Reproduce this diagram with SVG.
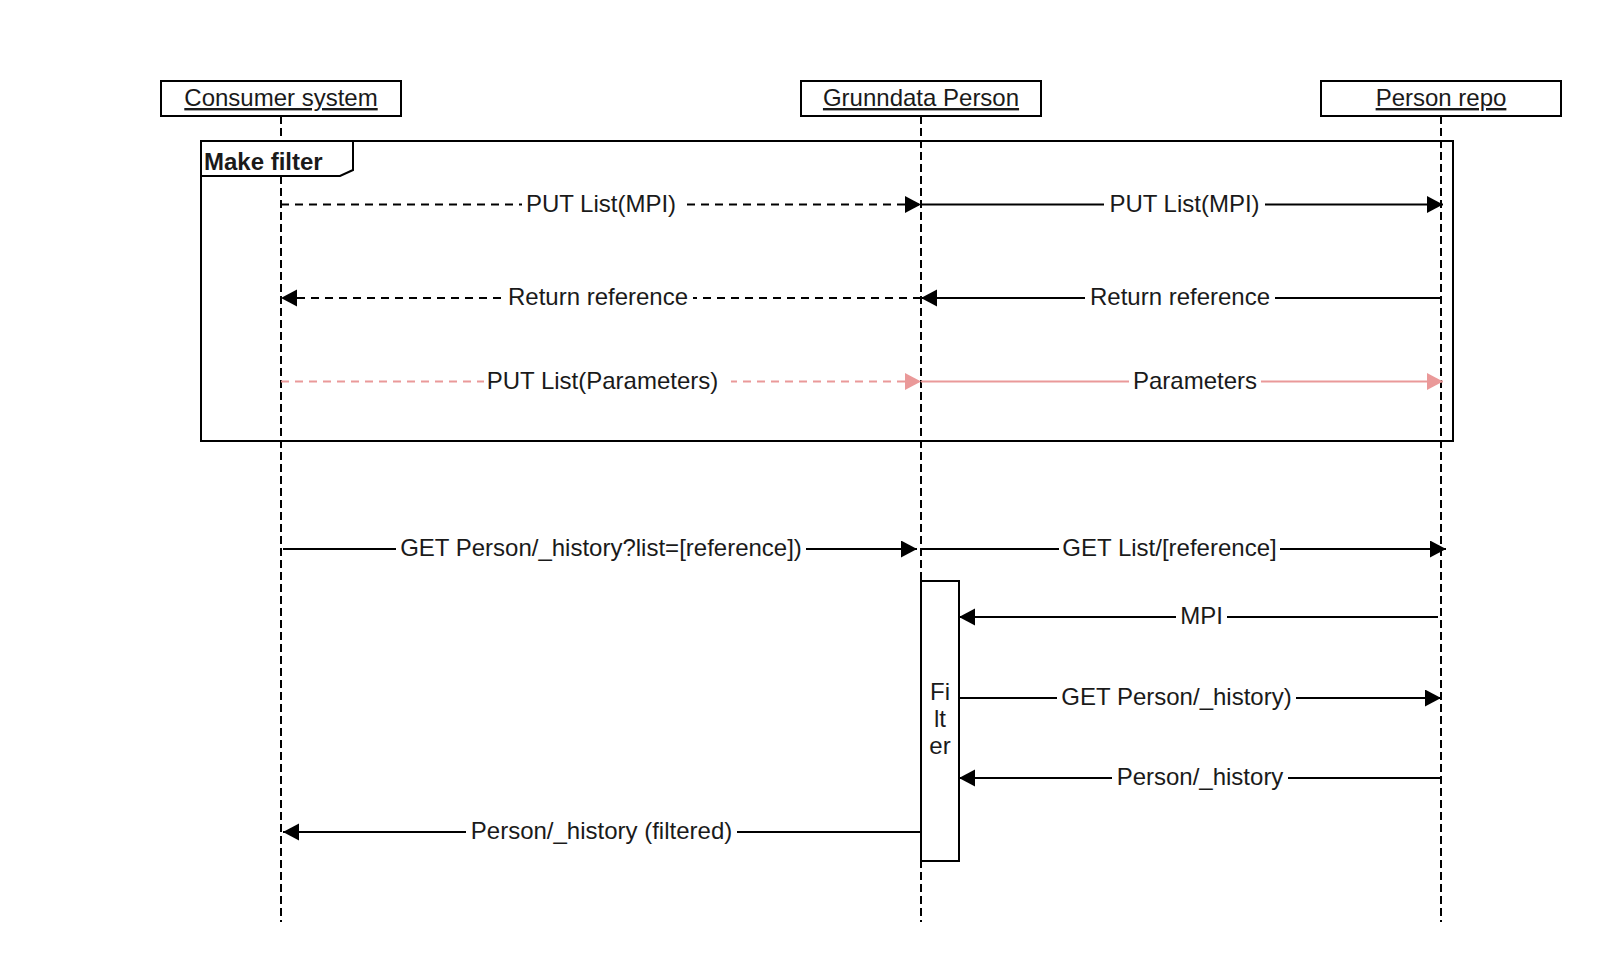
<svg xmlns="http://www.w3.org/2000/svg" width="1604" height="960" viewBox="0 0 1604 960">
  <style>
    text { font-family: "Liberation Sans", Arial, Helvetica, sans-serif; font-size: 24px; fill: #1a1a1a; }
    .head { fill: #ffffff; stroke: #000000; stroke-width: 2; }
    .title { text-anchor: middle; text-decoration: underline; }
    .life { stroke: #000000; stroke-width: 2; stroke-dasharray: 8 4; fill: none; }
    .msg { stroke: #000000; stroke-width: 2; fill: none; }
    .dash { stroke-dasharray: 8 6; }
    .pink { stroke: #ea9999; }
    .lbl { text-anchor: middle; }
    .bg { fill: #ffffff; }
  </style>
  <defs>
    <marker id="arrow" markerUnits="userSpaceOnUse" markerWidth="17" markerHeight="18" refX="16" refY="8.5" orient="auto">
      <path d="M0,0 L16,8.5 L0,17 z" fill="#000000"/>
    </marker>
    <marker id="arrowPink" markerUnits="userSpaceOnUse" markerWidth="17" markerHeight="18" refX="16" refY="8.5" orient="auto">
      <path d="M0,0 L16,8.5 L0,17 z" fill="#ea9999"/>
    </marker>
  </defs>
  <rect width="1604" height="960" fill="#ffffff"/>

  <!-- lifelines -->
  <g id="lifelines">
    <line class="life" x1="281" y1="116" x2="281" y2="922"/>
    <line class="life" x1="921" y1="116" x2="921" y2="922"/>
    <line class="life" x1="1441" y1="116" x2="1441" y2="922"/>
  </g>

  <!-- combined fragment -->
  <g id="frame-make-filter">
    <rect x="201" y="141" width="1252" height="300" fill="none" stroke="#000000" stroke-width="2"/>
    <polygon points="201,141 353,141 353,170 340,176 201,176" fill="#ffffff" stroke="#000000" stroke-width="2"/>
    <text x="204" y="169.5" font-weight="bold">Make filter</text>
  </g>

  <!-- participants -->
  <g id="consumer-system">
    <rect class="head" x="161" y="81" width="240" height="35"/>
    <text class="title" x="281" y="106">Consumer system</text>
  </g>
  <g id="grunndata-person">
    <rect class="head" x="801" y="81" width="240" height="35"/>
    <text class="title" x="921" y="106">Grunndata Person</text>
  </g>
  <g id="person-repo">
    <rect class="head" x="1321" y="81" width="240" height="35"/>
    <text class="title" x="1441" y="106">Person repo</text>
  </g>

  <!-- activation on Grunndata Person -->
  <g id="filter-activation">
    <rect x="921" y="581" width="38" height="280" fill="#ffffff" stroke="#000000" stroke-width="2"/>
    <text class="lbl" x="940" y="700">Fi</text>
    <text class="lbl" x="940" y="727">lt</text>
    <text class="lbl" x="940" y="754">er</text>
  </g>

  <!-- messages -->
  <g id="connectors">
    <line class="msg dash" x1="281" y1="204.5" x2="921" y2="204.5" marker-end="url(#arrow)"/>
    <rect class="bg" x="522" y="192" width="159" height="26"/>
    <text class="lbl" x="601" y="212">PUT List(MPI)</text>

    <line class="msg" x1="921" y1="204.5" x2="1443" y2="204.5" marker-end="url(#arrow)"/>
    <rect class="bg" x="1104" y="192" width="161" height="26"/>
    <text class="lbl" x="1184.5" y="212">PUT List(MPI)</text>

    <line class="msg" x1="1441" y1="298" x2="921" y2="298" marker-end="url(#arrow)"/>
    <rect class="bg" x="1085" y="285" width="190" height="26"/>
    <text class="lbl" x="1180" y="305">Return reference</text>

    <line class="msg dash" x1="921" y1="298" x2="281" y2="298" marker-end="url(#arrow)"/>
    <rect class="bg" x="504" y="285" width="189" height="26"/>
    <text class="lbl" x="598" y="305">Return reference</text>

    <line class="msg dash pink" x1="281" y1="381.5" x2="921" y2="381.5" marker-end="url(#arrowPink)"/>
    <rect class="bg" x="484" y="369" width="247" height="26"/>
    <text class="lbl" x="602.5" y="389">PUT List(Parameters)</text>

    <line class="msg pink" x1="921" y1="381.5" x2="1443" y2="381.5" marker-end="url(#arrowPink)"/>
    <rect class="bg" x="1129" y="369" width="132" height="26"/>
    <text class="lbl" x="1195" y="389">Parameters</text>

    <line class="msg" x1="283" y1="549" x2="917" y2="549" marker-end="url(#arrow)"/>
    <rect class="bg" x="396" y="536" width="410" height="26"/>
    <text class="lbl" x="601" y="556">GET Person/_history?list=[reference])</text>

    <line class="msg" x1="921" y1="549" x2="1446" y2="549" marker-end="url(#arrow)"/>
    <rect class="bg" x="1059" y="536" width="221" height="26"/>
    <text class="lbl" x="1169.5" y="556">GET List/[reference]</text>

    <line class="msg" x1="1438" y1="617" x2="959" y2="617" marker-end="url(#arrow)"/>
    <rect class="bg" x="1176" y="604" width="51" height="26"/>
    <text class="lbl" x="1201.5" y="624">MPI</text>

    <line class="msg" x1="959" y1="698" x2="1441" y2="698" marker-end="url(#arrow)"/>
    <rect class="bg" x="1057" y="685" width="239" height="26"/>
    <text class="lbl" x="1176.5" y="705">GET Person/_history)</text>

    <line class="msg" x1="1441" y1="778" x2="959" y2="778" marker-end="url(#arrow)"/>
    <rect class="bg" x="1112" y="765" width="176" height="26"/>
    <text class="lbl" x="1200" y="785">Person/_history</text>

    <line class="msg" x1="921" y1="832" x2="283" y2="832" marker-end="url(#arrow)"/>
    <rect class="bg" x="466" y="819" width="271" height="26"/>
    <text class="lbl" x="601.5" y="839">Person/_history (filtered)</text>
  </g>
</svg>
